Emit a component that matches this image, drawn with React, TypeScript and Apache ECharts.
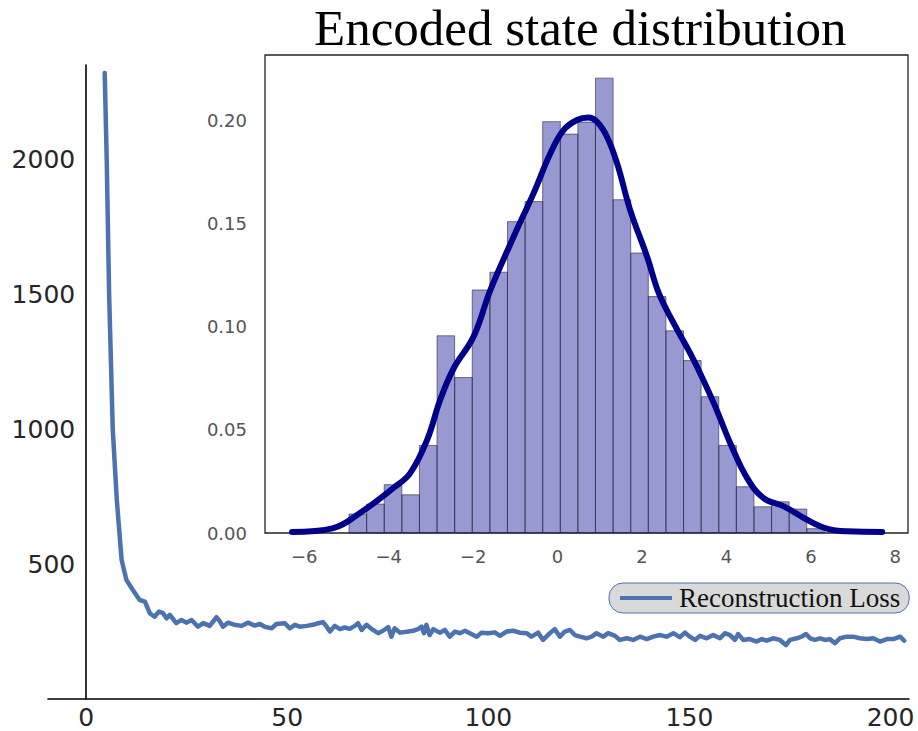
import React, { useEffect, useRef } from "react";
import * as echarts from "echarts";

// Main chart: reconstruction loss over training
const lossEpochs = [
  4.6, 5.1, 5.7, 6.6, 7.6, 8.8, 10.0, 11.6, 13.3, 14.6,
  15.8, 17.0, 18.1, 19.1, 20.0, 20.8, 22.4, 23.7, 24.9, 26.2,
  27.8, 29.1, 30.7, 32.4, 33.0, 34.0, 35.3, 36.9, 38.6, 40.2,
  41.9, 43.2, 44.4, 46.1, 47.3, 49.4, 50.6, 51.9, 53.1, 54.8,
  56.4, 57.7, 58.9, 59.8, 60.6, 61.8, 63.1, 64.3, 65.5, 66.8,
  67.6, 68.5, 69.7, 71.3, 72.6, 73.8, 75.1, 75.9, 76.7, 78.0,
  79.7, 81.3, 82.5, 83.4, 84.0, 84.6, 85.4, 86.3, 87.9, 89.2,
  90.4, 91.7, 92.9, 94.2, 95.4, 97.1, 98.3, 100.0, 101.6, 102.9,
  104.5, 106.2, 107.8, 109.5, 110.7, 112.4, 113.6, 115.3, 116.5, 117.8,
  119.0, 120.3, 121.5, 122.8, 124.4, 125.7, 126.9, 128.6, 129.8, 131.5,
  132.7, 134.4, 136.0, 137.7, 139.4, 141.0, 142.7, 144.3, 146.0, 147.6,
  148.9, 150.1, 151.4, 152.6, 154.3, 155.9, 157.6, 158.8, 160.1, 161.3,
  162.1, 163.4, 165.0, 166.7, 168.0, 169.2, 170.8, 172.5, 174.0, 175.0,
  176.7, 177.9, 179.0, 180.0, 181.2, 182.5, 183.7, 184.9, 186.2, 187.4,
  189.1, 190.7, 192.4, 194.1, 195.7, 197.4, 199.1, 200.7, 202.4, 203.4,
];
const lossValues = [
  2320, 2000, 1500, 1000, 740, 516, 441, 404, 367, 361,
  318, 305, 324, 318, 299, 312, 281, 293, 283, 293,
  268, 281, 271, 303, 293, 268, 283, 275, 271, 283,
  272, 278, 268, 262, 278, 281, 262, 275, 268, 271,
  275, 281, 285, 268, 250, 271, 259, 265, 260, 271,
  281, 256, 275, 256, 244, 253, 266, 231, 262, 246,
  249, 253, 259, 268, 244, 275, 237, 259, 246, 256,
  231, 250, 244, 253, 244, 231, 246, 244, 247, 234,
  250, 253, 246, 244, 231, 246, 219, 244, 259, 231,
  250, 256, 237, 231, 225, 231, 244, 231, 244, 234,
  219, 225, 219, 231, 222, 231, 237, 231, 244, 229,
  246, 231, 219, 234, 225, 237, 225, 244, 237, 219,
  241, 219, 222, 213, 222, 216, 225, 219, 200, 219,
  225, 231, 241, 225, 219, 225, 219, 222, 207, 225,
  231, 231, 225, 222, 225, 213, 222, 222, 231, 216,
];
const mainXTicks = [0, 50, 100, 150, 200];
const mainYTicks = [500, 1000, 1500, 2000];

// Inset: encoded state distribution
const histBinStart = -4.94;
const histBinWidth = 0.417;
const histHeights = [
  0.0092, 0.014, 0.0234, 0.0185, 0.0424, 0.0955, 0.0753, 0.1177, 0.1263,
  0.1508, 0.1605, 0.1992, 0.1932, 0.199, 0.2203, 0.1614, 0.1356, 0.1145,
  0.0979, 0.0835, 0.066, 0.0424, 0.0224, 0.0127, 0.0151, 0.0116, 0.0021,
];
const kdeX = [
  -6.29, -5.31, -4.68, -3.89, -3.49, -3.09, -2.78, -2.46, -1.99, -1.59,
  -1.04, -0.57, -0.17, 0.14, 0.46, 0.73, 0.93, 1.17, 1.41, 1.72, 2.12,
  2.4, 2.75, 3.22, 3.7, 4.09, 4.49, 4.88, 5.36, 5.91, 6.38, 6.86, 7.69,
];
const kdeY = [
  0.0005, 0.0024, 0.0097, 0.0218, 0.029, 0.0451, 0.0645, 0.0798, 0.0951,
  0.1177, 0.1435, 0.1645, 0.1839, 0.1951, 0.2, 0.2012, 0.1992, 0.1919,
  0.179, 0.1564, 0.1338, 0.116, 0.1016, 0.0839, 0.0629, 0.0435, 0.0266,
  0.0169, 0.0129, 0.0064, 0.0021, 0.0008, 0.0005,
];
const insetXTicks = [-6, -4, -2, 0, 2, 4, 6, 8];
const insetYTicks = [0, 0.05, 0.1, 0.15, 0.2];

const titleText = "Encoded state distribution";
const legendName = "Reconstruction Loss";

const MAIN_LEFT = 48;
const MAIN_RIGHT = 9;
const MAIN_XMIN = -9.5;
const MAIN_XMAX = 204.6;
const CHART_W = 918;

export default function App() {
  const ref = useRef<HTMLDivElement>(null);
  useEffect(() => {
    if (!ref.current) return;
    const chart = echarts.init(ref.current, null, { renderer: "svg" });
    const lossData = lossEpochs.map((x, i) => [x, lossValues[i]]);
    const histData = histHeights.map((h, i) => [
      histBinStart + i * histBinWidth,
      histBinStart + (i + 1) * histBinWidth,
      h,
    ]);
    const kdeData = kdeX.map((x, i) => [x, kdeY[i]]);
    // y axis sits at x = 0 of the main x scale
    const pxPerUnit = (CHART_W - MAIN_LEFT - MAIN_RIGHT) / (MAIN_XMAX - MAIN_XMIN);
    const yAxisOffset = -(0 - MAIN_XMIN) * pxPerUnit;
    const option: any = {
      animation: false,
      title: {
        text: titleText,
        left: 314,
        top: 2,
        padding: 0,
        textStyle: {
          fontFamily: "Liberation Serif",
          fontSize: 51,
          fontWeight: "normal",
          color: "#000",
        },
      },
      legend: {
        data: [{ name: legendName, icon: "rect" }],
        left: 609,
        top: 583,
        padding: [0, 9, 0, 11],
        itemWidth: 52,
        itemHeight: 4,
        backgroundColor: "#d9d9d9",
        borderColor: "#4c72b0",
        borderWidth: 1,
        borderRadius: 14,
        textStyle: {
          fontFamily: "Liberation Serif",
          fontSize: 27,
          color: "#111",
          lineHeight: 28,
          padding: [2, 0, 0, 2],
        },
      },
      grid: [
        {
          left: MAIN_LEFT,
          right: MAIN_RIGHT,
          top: 65,
          bottom: 32,
          containLabel: false,
          outerBoundsMode: "none",
        },
        {
          left: 265,
          right: 10,
          top: 55,
          bottom: 198,
          show: true,
          backgroundColor: "#fff",
          borderColor: "#222",
          borderWidth: 1.3,
          z: 5,
          containLabel: false,
          outerBoundsMode: "none",
        },
      ],
      xAxis: [
        {
          type: "value",
          gridIndex: 0,
          min: MAIN_XMIN,
          max: MAIN_XMAX,
          axisLine: { show: true, onZero: false, lineStyle: { color: "#000", width: 1.6 } },
          axisTick: { show: false },
          splitLine: { show: false },
          axisLabel: {
            customValues: mainXTicks,
            fontFamily: "DejaVu Sans",
            fontSize: 25,
            color: "#262626",
            margin: 6,
            formatter: (v: number) => String(v),
          },
        },
        {
          type: "value",
          gridIndex: 1,
          min: -6.93,
          max: 8.3,
          axisLine: { show: false },
          axisTick: { show: false },
          splitLine: { show: false },
          axisLabel: {
            customValues: insetXTicks,
            fontFamily: "DejaVu Sans",
            fontSize: 18,
            color: "#555",
            margin: 14,
            formatter: (v: number) => (v < 0 ? "\u2212" + Math.abs(v) : String(v)),
          },
          z: 6,
        },
      ],
      yAxis: [
        {
          type: "value",
          gridIndex: 0,
          min: 0,
          max: 2350,
          offset: yAxisOffset,
          axisLine: { show: true, onZero: false, lineStyle: { color: "#000", width: 1.6 } },
          axisTick: { show: false },
          splitLine: { show: false },
          axisLabel: {
            customValues: mainYTicks,
            fontFamily: "DejaVu Sans",
            fontSize: 25,
            color: "#262626",
            margin: 11,
            formatter: (v: number) => String(v),
          },
        },
        {
          type: "value",
          gridIndex: 1,
          min: 0,
          max: 0.2315,
          axisLine: { show: false },
          axisTick: { show: false },
          splitLine: { show: false },
          axisLabel: {
            customValues: insetYTicks,
            fontFamily: "DejaVu Sans",
            fontSize: 18,
            color: "#555",
            margin: 18,
            formatter: (v: number) => v.toFixed(2),
          },
          z: 6,
        },
      ],
      series: [
        {
          name: legendName,
          type: "line",
          xAxisIndex: 0,
          yAxisIndex: 0,
          data: lossData,
          symbol: "none",
          showSymbol: false,
          lineStyle: { color: "#4c72b0", width: 4.5, join: "round", cap: "round" },
          itemStyle: { color: "#4c72b0" },
          z: 2,
        },
        {
          name: "hist",
          type: "custom",
          xAxisIndex: 1,
          yAxisIndex: 1,
          data: histData,
          encode: { x: [0, 1], y: 2 },
          z: 6,
          renderItem: (params: any, api: any) => {
            const p0 = api.coord([api.value(0), api.value(2)]);
            const p1 = api.coord([api.value(1), 0]);
            return {
              type: "rect",
              shape: { x: p0[0], y: p0[1], width: p1[0] - p0[0], height: p1[1] - p0[1] },
              style: {
                fill: "rgba(0,0,139,0.4)",
                stroke: "rgba(40,40,70,0.6)",
                lineWidth: 1,
              },
            };
          },
        },
        {
          name: "kde",
          type: "line",
          xAxisIndex: 1,
          yAxisIndex: 1,
          data: kdeData,
          smooth: 0.4,
          symbol: "none",
          showSymbol: false,
          lineStyle: { color: "#00008b", width: 6, cap: "round", join: "round" },
          z: 7,
        },
      ],
    };
    chart.setOption(option);
    return () => chart.dispose();
  }, []);
  return (
    <div
      ref={ref}
      style={{ position: "absolute", left: 0, top: 0, width: 918, height: 731 }}
    />
  );
}
